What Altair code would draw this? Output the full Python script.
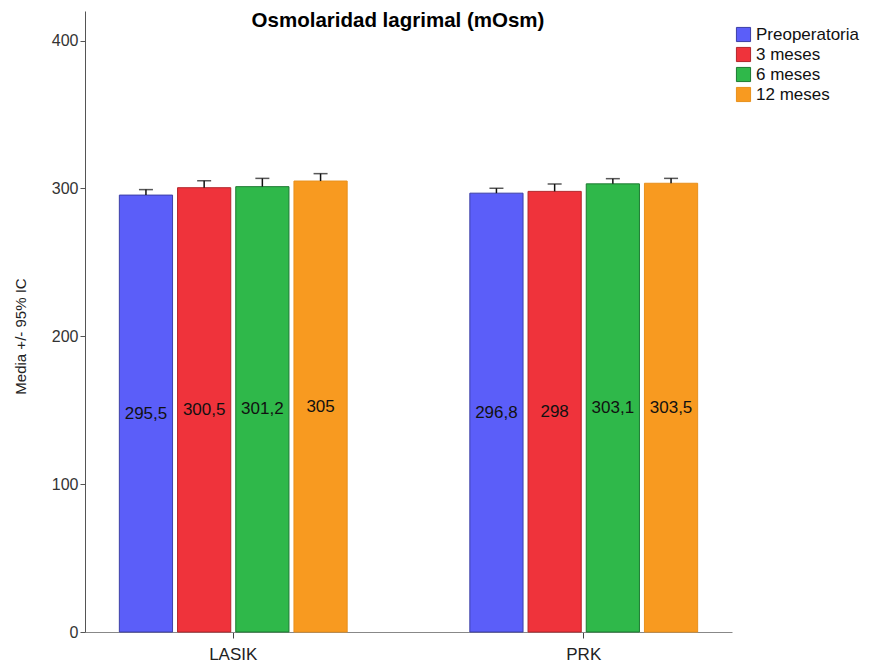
import altair as alt
import pandas as pd

groups = ["LASIK", "PRK"]
times = ["Preoperatoria", "3 meses", "\u00a06 meses", "12 meses"]
means_lasik = [295.5, 300.5, 301.2, 305.0]
means_prk = [296.8, 298.0, 303.1, 303.5]
upper_lasik = [299.2, 305.2, 306.8, 310.0]
upper_prk = [300.1, 303.0, 306.6, 306.8]
labels_lasik = ["295,5", "300,5", "301,2", "305"]
labels_prk = ["296,8", "298", "303,1", "303,5"]
fill_colors = ["#5b5ef9", "#ef333b", "#2fb84a", "#f89a20"]
stroke_colors = ["#3c3fa6", "#b3262c", "#1d7a32", "#e8901c"]
y_ticks = [0, 100, 200, 300, 400]
title_text = ["Osmolaridad lagrimal (mOsm)"]

rows = []
for g, ms, us, ls in zip(groups, [means_lasik, means_prk], [upper_lasik, upper_prk], [labels_lasik, labels_prk]):
    for t, m, u, l in zip(times, ms, us, ls):
        rows.append({"grupo": g, "tiempo": t, "media": m, "sup": u, "etiqueta": l})
df = pd.DataFrame(rows)

FONT = "Liberation Sans"

x_enc = alt.X(
    "grupo:N",
    scale=alt.Scale(domain=groups, paddingInner=0.35, paddingOuter=0.098),
    axis=alt.Axis(title=None, labelAngle=0, labelFontSize=17, labelFont=FONT, labelColor="#222",
                  domainColor="#888", tickColor="#444", tickSize=6, labelPadding=8),
)
xo_enc = alt.XOffset("tiempo:N", scale=alt.Scale(domain=times, paddingInner=0.086, paddingOuter=0))
y_scale = alt.Scale(domain=[0, 420], nice=False)
y_axis = alt.Axis(values=y_ticks, title="Media +/- 95% IC", grid=False, tickSize=5,
                  domainColor="#555", tickColor="#555", labelColor="#333", labelFontSize=16,
                  labelFont=FONT, titleFont=FONT, titleFontSize=15, titleFontWeight="normal",
                  titleColor="#222", titleX=-65, titleY=325, titleAngle=270,
                  titleAlign="center", titleBaseline="middle", labelPadding=2)

legend = alt.Legend(title=None, orient="none", legendX=650, legendY=15, labelFontSize=17,
                    labelFont=FONT, labelColor="#111", symbolType="square", symbolSize=200,
                    symbolStrokeWidth=1, rowPadding=1, labelOffset=4)

base = alt.Chart(df).encode(x=x_enc, xOffset=xo_enc)

bars = base.mark_bar(strokeWidth=1).encode(
    y=alt.Y("media:Q", scale=y_scale, axis=y_axis),
    fill=alt.Fill("tiempo:N", scale=alt.Scale(domain=times, range=fill_colors), legend=legend),
    stroke=alt.Stroke("tiempo:N", scale=alt.Scale(domain=times, range=stroke_colors), legend=legend),
)

err = base.mark_rule(color="#111", strokeWidth=1.5).encode(
    y=alt.Y("media:Q"), y2="sup:Q"
)
caps = base.mark_tick(color="#111", thickness=1.5, size=14).encode(y=alt.Y("sup:Q"))

txt = base.transform_calculate(mitad="datum.media / 2").mark_text(
    fontSize=17, font=FONT, color="#111"
).encode(y=alt.Y("mitad:Q"), text="etiqueta:N")

title = alt.Chart(pd.DataFrame({"t": title_text})).mark_text(
    fontSize=20.5, fontWeight="bold", font=FONT, color="#000", baseline="alphabetic", align="center"
).encode(text="t:N", x=alt.value(313), y=alt.value(16))

chart = alt.layer(bars, err, caps, txt, title).properties(
    width=647,
    height=621,
    autosize="none",
    padding={"left": 77, "top": 3, "right": 150, "bottom": 35},
).configure_view(stroke=None)

chart.save("out.html", embed_options={"renderer": "svg", "actions": False})
